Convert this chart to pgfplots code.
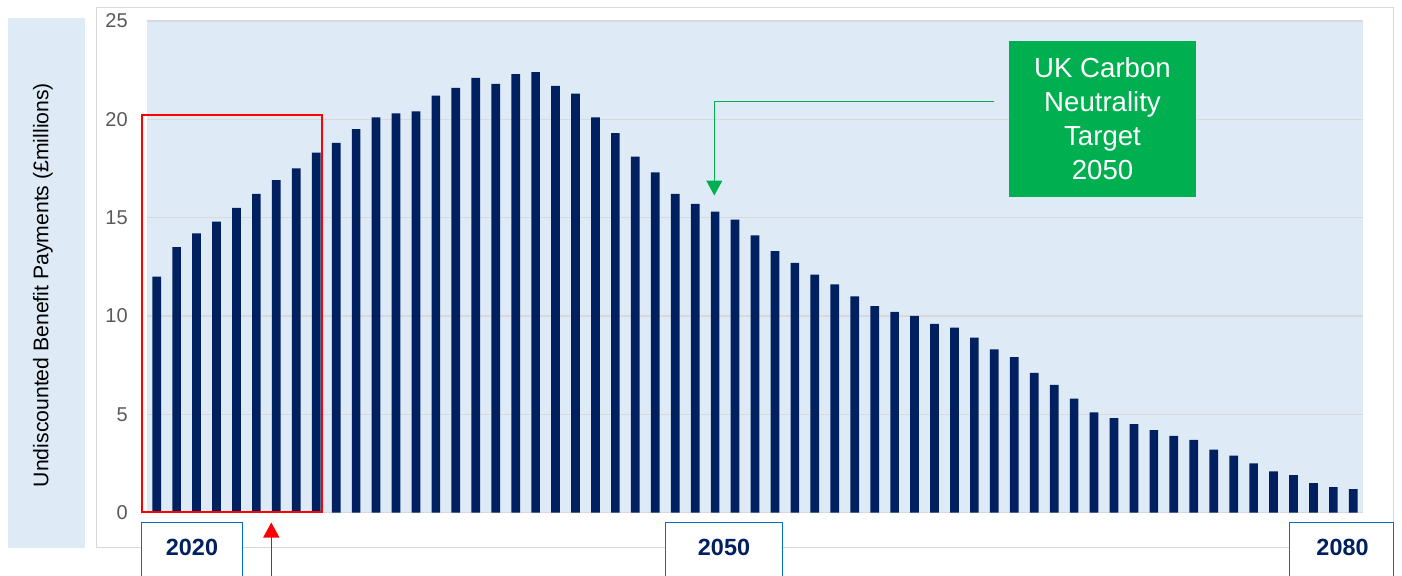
\documentclass[border=0pt]{standalone}
\usepackage{fontspec}
\setmainfont{Liberation Sans}
\usepackage{pgfplots}
\pgfplotsset{compat=1.18}
\usepackage{pgfplotstable}
\usetikzlibrary{arrows.meta}
\definecolor{navy}{HTML}{002060}
\definecolor{bgblue}{HTML}{DEEAF6}
\definecolor{gridgray}{HTML}{D9D9D9}
\definecolor{framegray}{HTML}{D9D9D9}
\definecolor{tickgray}{HTML}{595959}
\definecolor{boxblue}{HTML}{0070C0}
\definecolor{ukgreen}{HTML}{00B050}
\definecolor{ukred}{HTML}{FF0000}

\pgfplotstableread{
year value
2020 12.0
2021 13.5
2022 14.2
2023 14.8
2024 15.5
2025 16.2
2026 16.9
2027 17.5
2028 18.3
2029 18.8
2030 19.5
2031 20.1
2032 20.3
2033 20.4
2034 21.2
2035 21.6
2036 22.1
2037 21.8
2038 22.3
2039 22.4
2040 21.7
2041 21.3
2042 20.1
2043 19.3
2044 18.1
2045 17.3
2046 16.2
2047 15.7
2048 15.3
2049 14.9
2050 14.1
2051 13.3
2052 12.7
2053 12.1
2054 11.6
2055 11.0
2056 10.5
2057 10.2
2058 10.0
2059 9.6
2060 9.4
2061 8.9
2062 8.3
2063 7.9
2064 7.1
2065 6.5
2066 5.8
2067 5.1
2068 4.8
2069 4.5
2070 4.2
2071 3.9
2072 3.7
2073 3.2
2074 2.9
2075 2.5
2076 2.1
2077 1.9
2078 1.5
2079 1.3
2080 1.2
}\payments

\begin{document}
\begin{tikzpicture}
\useasboundingbox (0,0) rectangle (701pt,-287.5pt);
\begin{scope}[x=0.5pt,y=-0.5pt]
  \fill[bgblue] (8,18) rectangle (85,548);
  \node[rotate=90, font=\fontsize{10.6}{12}\selectfont, text=black] at (43,285) {Undiscounted Benefit Payments (£millions)};
  \draw[framegray, line width=0.8pt] (96.5,7.5) rectangle (1393.5,547.5);
\end{scope}

\begin{axis}[
  at={(73.35pt,-256.3pt)}, anchor=south west,
  scale only axis, width=608.3pt, height=245.85pt,
  xmin=2019.5, xmax=2080.5, ymin=0, ymax=25,
  ytick={0,5,10,15,20,25}, xtick=\empty,
  ymajorgrids, grid style={gridgray, line width=0.6pt},
  axis line style={draw=none}, major tick length=0pt,
  axis background/.style={fill=bgblue},
  yticklabel style={font=\fontsize{10}{12}\selectfont, text=tickgray, xshift=-6pt},
  /pgf/number format/assume math mode=true,
  ybar, bar width=4.35pt, bar shift=0pt,
]
\addplot[fill=navy, draw=none] table[x=year, y=value] {\payments};
\end{axis}

\begin{scope}[x=0.5pt,y=-0.5pt]
  % red highlight box and arrow
  \draw[ukred, line width=1pt] (142,114.5) rectangle (322,511.5);
  \draw[ukred, line width=0.65pt, -{Triangle[width=8pt,length=7.5pt]}] (271.3,600) -- (271.3,522.5);
  % year boxes
  \draw[boxblue, fill=white, line width=0.75pt] (141.7,522.3) rectangle (242.3,600);
  \node[font=\fontsize{11.7}{14}\selectfont\bfseries, text=navy] at (192,547) {2020};
  \draw[boxblue, fill=white, line width=0.75pt] (665.7,522.3) rectangle (782.3,600);
  \node[font=\fontsize{11.7}{14}\selectfont\bfseries, text=navy] at (724,547) {2050};
  \draw[boxblue, fill=white, line width=0.75pt] (1289.3,522.3) rectangle (1393.3,600);
  \node[font=\fontsize{11.7}{14}\selectfont\bfseries, text=navy] at (1342.5,547) {2080};
  % green callout
  \draw[ukgreen, line width=0.6pt, -{Triangle[width=8pt,length=7.5pt]}] (994,101.6) -- (714.3,101.6) -- (714.3,195.5);
  \fill[ukgreen] (1009,41) rectangle (1196,197);
  \node[align=center, text=white, font=\fontsize{13.8}{17}\selectfont] at (1102.5,119) {UK Carbon\\Neutrality\\Target\\2050};
\end{scope}
\end{tikzpicture}
\end{document}
